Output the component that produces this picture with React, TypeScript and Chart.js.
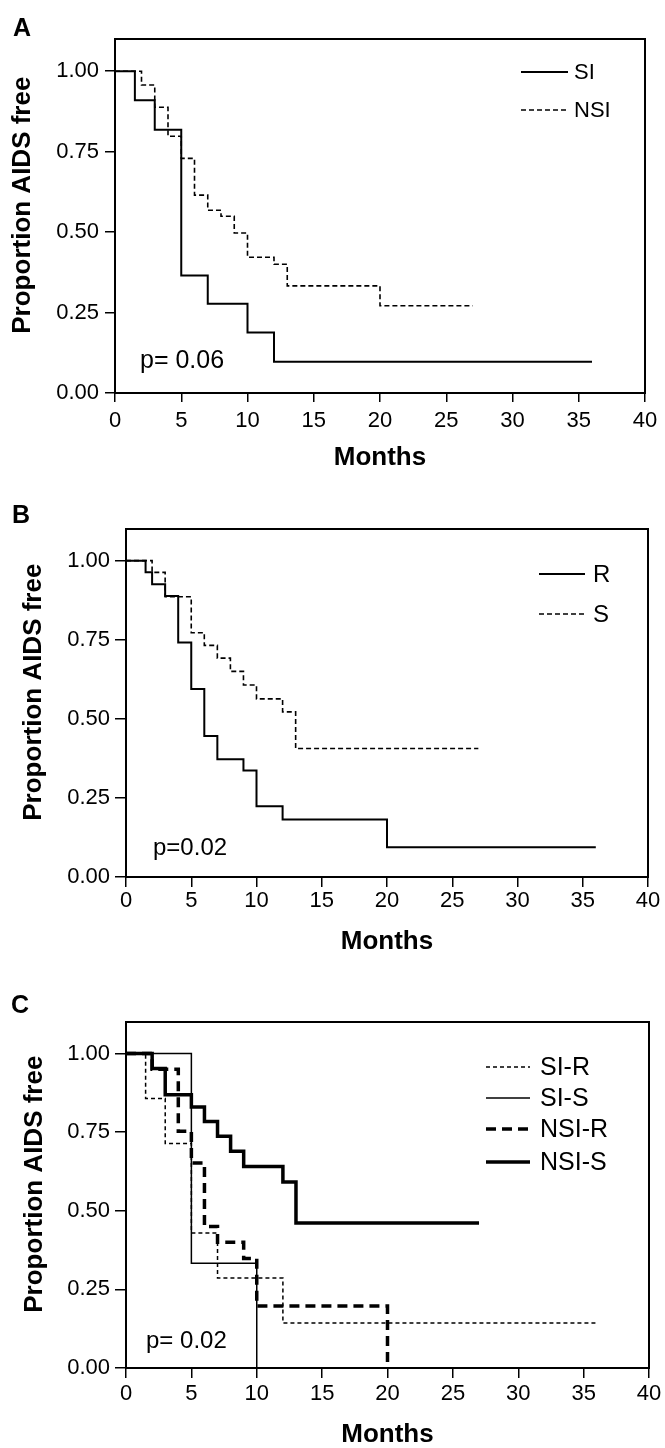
import React, { useEffect, useRef } from "react";
import { Chart, registerables } from "chart.js";

Chart.register(...registerables);

// ---------- data ----------
const xTickValues = [0, 5, 10, 15, 20, 25, 30, 35, 40];
const yTickValues = [0, 0.25, 0.5, 0.75, 1.0];

// Panel A
const aLabels = ["SI", "NSI"];
const aSiMonths = [0, 1.5, 3, 5, 7, 10, 12, 36];
const aSiSurv = [1, 0.91, 0.818, 0.365, 0.277, 0.188, 0.097, 0.097];
const aNsiMonths = [0, 2, 3, 4, 5, 6, 7, 8, 9, 10, 12, 13, 20, 27];
const aNsiSurv = [1, 0.957, 0.888, 0.798, 0.729, 0.615, 0.568, 0.549, 0.497, 0.422, 0.4, 0.333, 0.271, 0.271];

// Panel B
const bLabels = ["R", "S"];
const bRMonths = [0, 1.5, 2, 3, 4, 5, 6, 7, 9, 10, 12, 20, 36];
const bRSurv = [1, 0.963, 0.925, 0.888, 0.741, 0.594, 0.446, 0.372, 0.337, 0.224, 0.182, 0.094, 0.094];
const bSMonths = [0, 2, 3, 5, 6, 7, 8, 9, 10, 12, 13, 27];
const bSSurv = [1, 0.963, 0.886, 0.772, 0.732, 0.692, 0.65, 0.607, 0.563, 0.522, 0.406, 0.406];

// Panel C
const cLabels = ["SI-R", "SI-S", "NSI-R", "NSI-S"];
const cSiRMonths = [0, 1.5, 3, 5, 7, 12, 36];
const cSiRSurv = [1, 0.857, 0.714, 0.429, 0.286, 0.143, 0.143];
const cSiSMonths = [0, 5, 10];
const cSiSSurv = [1, 0.333, 0];
const cNsiRMonths = [0, 2, 4, 5, 6, 7, 9, 10, 20];
const cNsiRSurv = [1, 0.95, 0.753, 0.652, 0.45, 0.4, 0.348, 0.197, 0];
const cNsiSMonths = [0, 2, 3, 5, 6, 7, 8, 9, 12, 13, 27];
const cNsiSSurv = [1, 0.952, 0.869, 0.83, 0.784, 0.737, 0.689, 0.641, 0.591, 0.461, 0.461];

const pTexts = ["p= 0.06", "p=0.02", "p= 0.02"];
const panelLetters = ["A", "B", "C"];
const xTitle = "Months";
const yTitle = "Proportion AIDS free";

const FONT = "'Liberation Sans', Arial, Helvetica, sans-serif";

type Series = { label: string; x: number[]; y: number[]; width: number; dash: number[] };

type PanelCfg = {
  letter: string;
  top: number;
  height: number;
  chartTop: number;
  chartBottom: number;
  chartLeft: number;
  chartRight: number;
  xTickLen: number;
  xTickPad: number;
  yTickLen: number;
  yTickPad: number;
  yTitlePad: number;
  xTitleH: number;
  series: Series[];
  pText: string;
  pX: number;
  pY: number;
  pSize: number;
  letterX: number;
  letterY: number;
  legX1: number;
  legX2: number;
  legTextX: number;
  legYs: number[];
  legSize: number;
};

const panels: PanelCfg[] = [
  {
    letter: panelLetters[0],
    top: 0,
    height: 480,
    chartTop: 39,
    chartBottom: 393,
    chartLeft: 115,
    chartRight: 645,
    xTickLen: 9,
    xTickPad: 6,
    yTickLen: 10,
    yTickPad: 6,
    yTitlePad: 10,
    xTitleH: 78,
    series: [
      { label: aLabels[0], x: aSiMonths, y: aSiSurv, width: 2, dash: [] },
      { label: aLabels[1], x: aNsiMonths, y: aNsiSurv, width: 1.6, dash: [5, 3] },
    ],
    pText: pTexts[0],
    pX: 140,
    pY: 368,
    pSize: 25,
    letterX: 13,
    letterY: 36,
    legX1: 521,
    legX2: 568,
    legTextX: 574,
    legYs: [72, 110],
    legSize: 22,
  },
  {
    letter: panelLetters[1],
    top: 480,
    height: 480,
    chartTop: 529,
    chartBottom: 877,
    chartLeft: 126,
    chartRight: 648,
    xTickLen: 10,
    xTickPad: 1,
    yTickLen: 11,
    yTickPad: 5,
    yTitlePad: 21,
    xTitleH: 78,
    series: [
      { label: bLabels[0], x: bRMonths, y: bRSurv, width: 2, dash: [] },
      { label: bLabels[1], x: bSMonths, y: bSSurv, width: 1.6, dash: [5, 3] },
    ],
    pText: pTexts[1],
    pX: 153,
    pY: 855,
    pSize: 24,
    letterX: 12,
    letterY: 523,
    legX1: 539,
    legX2: 585,
    legTextX: 593,
    legYs: [574, 614],
    legSize: 24,
  },
  {
    letter: panelLetters[2],
    top: 960,
    height: 488,
    chartTop: 1022,
    chartBottom: 1368,
    chartLeft: 126,
    chartRight: 649,
    xTickLen: 10,
    xTickPad: 3,
    yTickLen: 11,
    yTickPad: 5,
    yTitlePad: 22,
    xTitleH: 80,
    series: [
      { label: cLabels[0], x: cSiRMonths, y: cSiRSurv, width: 1.5, dash: [4, 3] },
      { label: cLabels[1], x: cSiSMonths, y: cSiSSurv, width: 1.5, dash: [] },
      { label: cLabels[2], x: cNsiRMonths, y: cNsiRSurv, width: 3.5, dash: [10, 6] },
      { label: cLabels[3], x: cNsiSMonths, y: cNsiSSurv, width: 3.5, dash: [] },
    ],
    pText: pTexts[2],
    pX: 146,
    pY: 1348,
    pSize: 24,
    letterX: 11,
    letterY: 1013,
    legX1: 486,
    legX2: 530,
    legTextX: 540,
    legYs: [1067, 1098, 1129, 1162],
    legSize: 25,
  },
];

function makeChart(canvas: HTMLCanvasElement, cfg: PanelCfg) {
  const off = cfg.top;
  const padTop = cfg.chartTop - off;
  const padRight = 665 - cfg.chartRight;
  const padBottom = cfg.height - (cfg.chartBottom - off) - cfg.xTitleH;

  const annot = {
    id: "annot_" + cfg.letter,
    beforeDatasetsDraw(chart: any) {
      const { ctx, chartArea: a } = chart;
      ctx.save();
      ctx.strokeStyle = "#000";
      ctx.lineWidth = 2;
      ctx.setLineDash([]);
      ctx.strokeRect(a.left, a.top, a.right - a.left, a.bottom - a.top);
      ctx.restore();
    },
    afterDraw(chart: any) {
      const ctx = chart.ctx as CanvasRenderingContext2D;
      ctx.save();
      ctx.fillStyle = "#000";
      ctx.strokeStyle = "#000";
      // panel letter
      ctx.font = `bold 25px ${FONT}`;
      ctx.textAlign = "left";
      ctx.textBaseline = "alphabetic";
      ctx.fillText(cfg.letter, cfg.letterX, cfg.letterY - off);
      // p value
      ctx.font = `${cfg.pSize}px ${FONT}`;
      ctx.fillText(cfg.pText, cfg.pX, cfg.pY - off);
      // legend
      ctx.font = `${cfg.legSize}px ${FONT}`;
      ctx.textBaseline = "middle";
      chart.data.datasets.forEach((ds: any, i: number) => {
        const y = cfg.legYs[i] - off;
        ctx.lineWidth = ds.borderWidth;
        ctx.setLineDash(ds.borderDash || []);
        ctx.beginPath();
        ctx.moveTo(cfg.legX1, y);
        ctx.lineTo(cfg.legX2, y);
        ctx.stroke();
        ctx.setLineDash([]);
        ctx.fillText(ds.label, cfg.legTextX, y + 1);
      });
      ctx.restore();
    },
  };

  return new Chart(canvas, {
    type: "line",
    data: {
      datasets: cfg.series.map((s) => ({
        label: s.label,
        data: s.x.map((x, i) => ({ x, y: s.y[i] })),
        borderColor: "#000",
        backgroundColor: "#000",
        borderWidth: s.width,
        borderDash: s.dash,
        stepped: "before" as const,
        pointRadius: 0,
        pointHoverRadius: 0,
        fill: false,
        tension: 0,
      })),
    },
    options: {
      responsive: false,
      maintainAspectRatio: false,
      animation: false,
      events: [],
      layout: { padding: { top: padTop, left: 0, right: padRight, bottom: padBottom } },
      plugins: { legend: { display: false }, tooltip: { enabled: false }, title: { display: false } },
      scales: {
        x: {
          type: "linear",
          min: 0,
          max: 40,
          afterBuildTicks: (s: any) => {
            s.ticks = xTickValues.map((v) => ({ value: v }));
          },
          afterFit: (s: any) => {
            s.height = cfg.xTitleH;
          },
          ticks: {
            color: "#000",
            font: { family: FONT, size: 22 },
            padding: cfg.xTickPad,
            maxRotation: 0,
            autoSkip: false,
            callback: (v: any) => String(v),
          },
          grid: {
            display: true,
            drawOnChartArea: false,
            drawTicks: true,
            tickLength: cfg.xTickLen,
            color: "#000",
            lineWidth: 1.5,
          },
          border: { display: false },
          title: {
            display: true,
            text: xTitle,
            color: "#000",
            font: { family: FONT, size: 26, weight: "bold", lineHeight: 1 },
            padding: 0,
          },
        },
        y: {
          type: "linear",
          min: 0,
          max: 1.1,
          afterBuildTicks: (s: any) => {
            s.ticks = yTickValues.map((v) => ({ value: v }));
          },
          afterFit: (s: any) => {
            s.width = cfg.chartLeft;
          },
          ticks: {
            color: "#000",
            font: { family: FONT, size: 22 },
            padding: cfg.yTickPad,
            autoSkip: false,
            callback: (v: any) => Number(v).toFixed(2),
          },
          grid: {
            display: true,
            drawOnChartArea: false,
            drawTicks: true,
            tickLength: cfg.yTickLen,
            color: "#000",
            lineWidth: 1.5,
          },
          border: { display: false },
          title: {
            display: true,
            text: "   " + yTitle,
            color: "#000",
            font: { family: FONT, size: 26, weight: "bold", lineHeight: 1 },
            padding: { top: cfg.yTitlePad, bottom: 0 },
          },
        },
      },
    } as any,
    plugins: [annot],
  });
}

function Panel({ cfg }: { cfg: PanelCfg }) {
  const ref = useRef<HTMLCanvasElement | null>(null);
  useEffect(() => {
    if (!ref.current) return;
    const chart = makeChart(ref.current, cfg);
    return () => chart.destroy();
  }, [cfg]);
  return (
    <canvas
      ref={ref}
      width={665}
      height={cfg.height}
      style={{ position: "absolute", left: 0, top: cfg.top, width: 665, height: cfg.height }}
    />
  );
}

export default function App() {
  return (
    <div style={{ position: "absolute", left: 0, top: 0, width: 665, height: 1448, background: "#fff" }}>
      {panels.map((p) => (
        <Panel key={p.letter} cfg={p} />
      ))}
    </div>
  );
}
